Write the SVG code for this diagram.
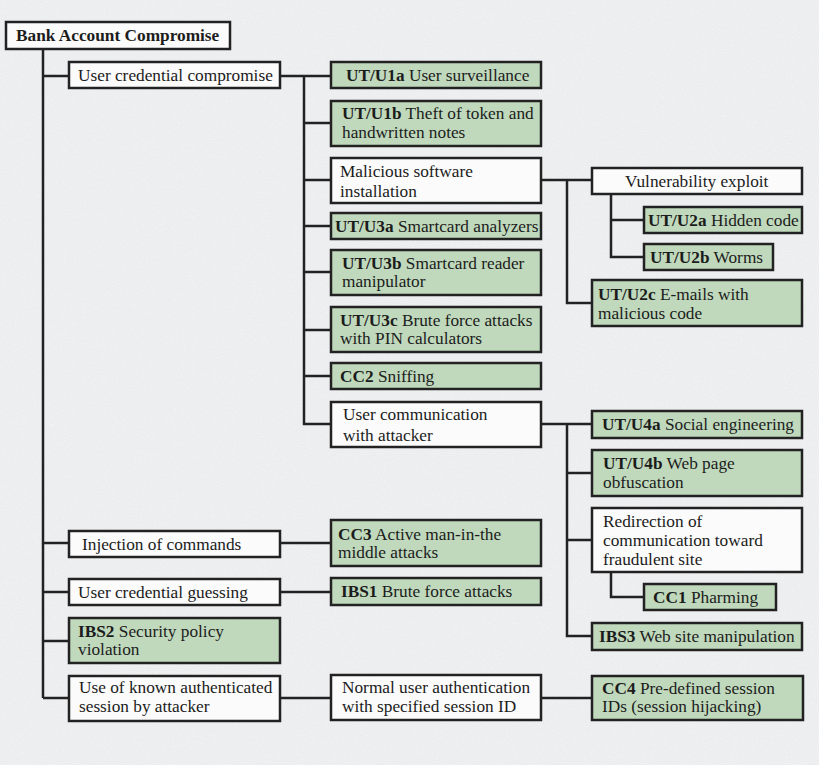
<svg xmlns="http://www.w3.org/2000/svg" width="819" height="765" viewBox="0 0 819 765">
<defs>
<style>
.bg{fill:#ecedef}
.w{fill:#fbfbfb;stroke:#222;stroke-width:2.5}
.g{fill:#c0d9bc;stroke:#222;stroke-width:2.5}
.ln{fill:none;stroke:#222;stroke-width:2.5}
text{font-family:"Liberation Serif","Times New Roman",serif;font-size:17.3px;fill:#1c1c1c}
.b{font-weight:bold}
</style>
<filter id="tex" x="0" y="0" width="100%" height="100%">
<feTurbulence type="fractalNoise" baseFrequency="0.9" numOctaves="2" seed="3"/>
<feColorMatrix type="matrix" values="0 0 0 0 1  0 0 0 0 1  0 0 0 0 1  0 0 0 -2.2 1.25"/>
</filter>
</defs>
<rect class="bg" x="0" y="0" width="819" height="765"/>
<rect x="0" y="0" width="819" height="765" filter="url(#tex)" opacity="0.35"/>
<g id="connectors">
<path class="ln" d="M43 49V698M43 76H69M43 543H69M43 592H69M43 641H69M43 698H69"/>
<path class="ln" d="M280 76H331M304 76V424H331M304 123H331M304 180H331M304 226H331M304 272H331M304 330H331M304 376H331"/>
<path class="ln" d="M541 180H592M567 180V303H592M611 194V257H644M611 220H644"/>
<path class="ln" d="M541 424H592M567 424V636H592M567 473H592M567 540H592M611 572V597H644"/>
<path class="ln" d="M280 543H331M280 592H331M280 698H331M541 698H592"/>
</g>
<g id="root"><rect class="w" x="6" y="22" width="224" height="27"/><text class="b" x="16" y="41">Bank Account Compromise</text></g>
<g id="ucc"><rect class="w" x="69" y="62" width="211" height="26"/><text x="78" y="81">User credential compromise</text></g>
<g id="u1a"><rect class="g" x="331" y="62" width="210" height="26"/><text x="346" y="81"><tspan class="b">UT/U1a</tspan> User surveillance</text></g>
<g id="u1b"><rect class="g" x="331" y="101" width="210" height="45"/><text x="342" y="119"><tspan class="b">UT/U1b</tspan> Theft of token and</text><text x="342" y="137.5">handwritten notes</text></g>
<g id="mal"><rect class="w" x="331" y="158" width="210" height="45"/><text x="340" y="177">Malicious software</text><text x="340" y="197">installation</text></g>
<g id="vuln"><rect class="w" x="592" y="168" width="210" height="26"/><text x="625" y="187">Vulnerability exploit</text></g>
<g id="u2a"><rect class="g" x="644" y="207" width="158" height="26"/><text x="648" y="226"><tspan class="b">UT/U2a</tspan> Hidden code</text></g>
<g id="u2b"><rect class="g" x="644" y="244" width="129" height="26"/><text x="650" y="263"><tspan class="b">UT/U2b</tspan> Worms</text></g>
<g id="u2c"><rect class="g" x="592" y="280" width="210" height="46"/><text x="598" y="300"><tspan class="b">UT/U2c</tspan> E-mails with</text><text x="598" y="318.5">malicious code</text></g>
<g id="u3a"><rect class="g" x="331" y="213" width="210" height="26"/><text x="335" y="232"><tspan class="b">UT/U3a</tspan> Smartcard analyzers</text></g>
<g id="u3b"><rect class="g" x="331" y="250" width="210" height="45"/><text x="342" y="268.5"><tspan class="b">UT/U3b</tspan> Smartcard reader</text><text x="342" y="287">manipulator</text></g>
<g id="u3c"><rect class="g" x="331" y="307" width="210" height="45"/><text x="340" y="325.5"><tspan class="b">UT/U3c</tspan> Brute force attacks</text><text x="340" y="344">with PIN calculators</text></g>
<g id="cc2"><rect class="g" x="331" y="363" width="210" height="26"/><text x="340" y="382"><tspan class="b">CC2</tspan> Sniffing</text></g>
<g id="ucomm"><rect class="w" x="331" y="402" width="210" height="45"/><text x="343" y="420">User communication</text><text x="343" y="441">with attacker</text></g>
<g id="u4a"><rect class="g" x="592" y="411" width="210" height="27"/><text x="602" y="430"><tspan class="b">UT/U4a</tspan> Social engineering</text></g>
<g id="u4b"><rect class="g" x="592" y="450" width="210" height="46"/><text x="603" y="469"><tspan class="b">UT/U4b</tspan> Web page</text><text x="603" y="487.5">obfuscation</text></g>
<g id="redir"><rect class="w" x="592" y="508" width="210" height="64"/><text x="603" y="527">Redirection of</text><text x="603" y="546">communication toward</text><text x="603" y="565">fraudulent site</text></g>
<g id="cc1"><rect class="g" x="644" y="584" width="132" height="26"/><text x="653" y="603"><tspan class="b">CC1</tspan> Pharming</text></g>
<g id="ibs3"><rect class="g" x="592" y="623" width="210" height="27"/><text x="599" y="642"><tspan class="b">IBS3</tspan> Web site manipulation</text></g>
<g id="inj"><rect class="w" x="69" y="531" width="211" height="26"/><text x="82" y="550">Injection of commands</text></g>
<g id="cc3"><rect class="g" x="331" y="520" width="210" height="46"/><text x="338" y="539.5"><tspan class="b">CC3</tspan> Active man-in-the</text><text x="338" y="558">middle attacks</text></g>
<g id="guess"><rect class="w" x="69" y="579" width="211" height="26"/><text x="78" y="598">User credential guessing</text></g>
<g id="ibs1"><rect class="g" x="331" y="578" width="210" height="27"/><text x="341" y="597"><tspan class="b">IBS1</tspan> Brute force attacks</text></g>
<g id="ibs2"><rect class="g" x="69" y="618" width="211" height="45"/><text x="78" y="636.5"><tspan class="b">IBS2</tspan> Security policy</text><text x="78" y="655">violation</text></g>
<g id="usekn"><rect class="w" x="69" y="676" width="211" height="45"/><text x="79" y="693">Use of known authenticated</text><text x="79" y="711.5">session by attacker</text></g>
<g id="norm"><rect class="w" x="331" y="675" width="210" height="45"/><text x="342" y="693">Normal user authentication</text><text x="342" y="711.5">with specified session ID</text></g>
<g id="cc4"><rect class="g" x="592" y="676" width="211" height="44"/><text x="602" y="693.5"><tspan class="b">CC4</tspan> Pre-defined session</text><text x="602" y="712">IDs (session hijacking)</text></g>
</svg>
